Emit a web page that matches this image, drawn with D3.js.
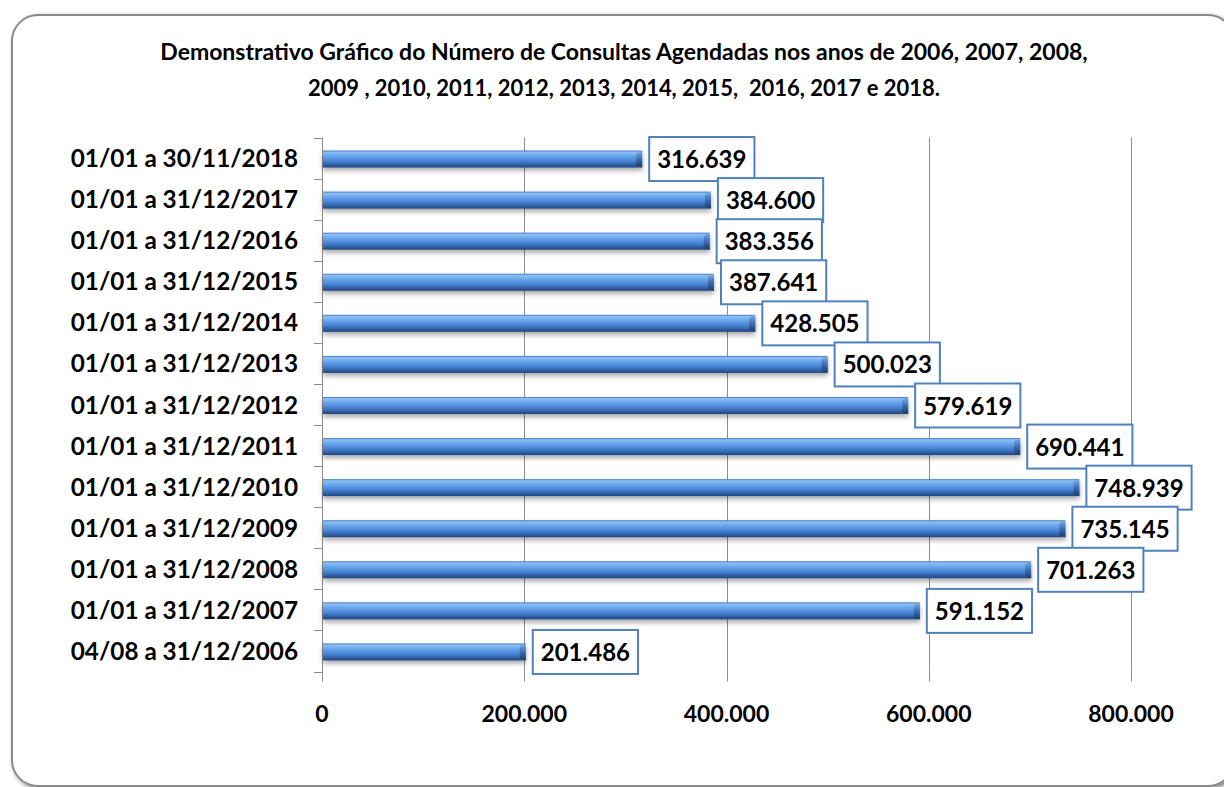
<!DOCTYPE html>
<html><head><meta charset="utf-8">
<script src="https://cdn.jsdelivr.net/npm/d3@7"></script>
<style>html,body{margin:0;padding:0;background:#fff;overflow:hidden}svg{display:block}text{font-family:Lato,"Open Sans",sans-serif;font-weight:bold;fill:#000}</style>
</head><body><svg id="c" width="1224" height="787"></svg>
<script>
const categories = ["01/01 a 30/11/2018","01/01 a 31/12/2017","01/01 a 31/12/2016","01/01 a 31/12/2015","01/01 a 31/12/2014","01/01 a 31/12/2013","01/01 a 31/12/2012","01/01 a 31/12/2011","01/01 a 31/12/2010","01/01 a 31/12/2009","01/01 a 31/12/2008","01/01 a 31/12/2007","04/08 a 31/12/2006"];
const values = [316639,384600,383356,387641,428505,500023,579619,690441,748939,735145,701263,591152,201486];
const xTicks = [0,200000,400000,600000,800000];
const titleLines = ["Demonstrativo Gráfico do Número de Consultas Agendadas nos anos de 2006, 2007, 2008,","2009 , 2010, 2011, 2012, 2013, 2014, 2015,  2016, 2017 e 2018."];

(function(){
const svg = d3.select("#c");
const loc = d3.formatLocale({decimal:",",thousands:".",grouping:[3],currency:["",""]});
const fmt = loc.format(",");

const defs = svg.append("defs");
const g1 = defs.append("linearGradient").attr("id","bar").attr("x1",0).attr("y1",0).attr("x2",0).attr("y2",1);
[[0,"#3d73bf"],[0.1,"#8fc0f4"],[0.3,"#6ca8ee"],[0.6,"#4a86d6"],[0.85,"#2f5ea3"],[1,"#21457b"]].forEach(s=>g1.append("stop").attr("offset",s[0]).attr("stop-color",s[1]));
const g2 = defs.append("linearGradient").attr("id","cap").attr("x1",0).attr("y1",0).attr("x2",0).attr("y2",1);
[[0,"#7fb0ea"],[0.5,"#3b6eb4"],[1,"#1a3a66"]].forEach(s=>g2.append("stop").attr("offset",s[0]).attr("stop-color",s[1]));
const f1 = defs.append("filter").attr("id","sh").attr("x","-5%").attr("y","-50%").attr("width","110%").attr("height","250%");
f1.append("feDropShadow").attr("dx",0).attr("dy",3).attr("stdDeviation",2.5).attr("flood-color","#000").attr("flood-opacity",0.35);
const f2 = defs.append("filter").attr("id","osh").attr("x","-5%").attr("y","-5%").attr("width","110%").attr("height","110%");
f2.append("feDropShadow").attr("dx",2).attr("dy",2).attr("stdDeviation",2).attr("flood-color","#000").attr("flood-opacity",0.5);

svg.append("rect").attr("x",12).attr("y",15).attr("width",1222).attr("height",771).attr("rx",26)
  .attr("fill","#fff").attr("stroke","#8a8a8a").attr("stroke-width",2).attr("filter","url(#osh)");

const tt = svg.append("g");
const targets = [928, 632];
titleLines.forEach((t,i)=>{
  const el = tt.append("text").attr("x",624).attr("y",[60,96][i]).attr("text-anchor","middle")
    .style("white-space","pre").attr("font-size",20).text(t);
  const w = el.node().getComputedTextLength();
  el.attr("font-size", 20*targets[i]/w);
});

const x = d3.scaleLinear().domain([0,800000]).range([322,1131]);
const y = d3.scaleBand().domain(categories).range([137.5,671.5]).padding(0);
const yTop = y.range()[0], yBot = y.range()[1];

svg.append("g").selectAll("line").data(xTicks.filter(d=>d>0)).join("line")
  .attr("x1",d=>Math.round(x(d))+0.5).attr("x2",d=>Math.round(x(d))+0.5).attr("y1",yTop).attr("y2",yBot)
  .attr("stroke","#8c8c8c").attr("stroke-width",1);
svg.append("g").selectAll("line").data(xTicks).join("line")
  .attr("x1",d=>Math.round(x(d))+0.5).attr("x2",d=>Math.round(x(d))+0.5).attr("y1",yBot).attr("y2",yBot+10)
  .attr("stroke","#8c8c8c");
svg.append("g").selectAll("text").data(xTicks).join("text")
  .attr("x",d=>x(d)).attr("y",722).attr("text-anchor","middle").attr("font-size",23).text(d=>fmt(d));
svg.append("line").attr("x1",322.5).attr("x2",322.5).attr("y1",yTop).attr("y2",yBot+10).attr("stroke","#8c8c8c");
const bounds = categories.map(c=>y(c)).concat([yBot]);
svg.append("g").selectAll("line").data(bounds).join("line")
  .attr("x1",314).attr("x2",322).attr("y1",d=>Math.round(d)+0.5).attr("y2",d=>Math.round(d)+0.5).attr("stroke","#8c8c8c");
svg.append("g").selectAll("text").data(categories).join("text")
  .attr("x",298).attr("y",c=>y(c)+y.bandwidth()/2+9).attr("text-anchor","end").attr("font-size",24.3).text(c=>c);

const bh = 17;
const bars = svg.append("g");
categories.forEach((c,i)=>{
  const cy = y(c)+y.bandwidth()/2+1;
  const x0 = x(0)+1, x1 = x(values[i]);
  const g = bars.append("g").attr("filter","url(#sh)");
  g.append("rect").attr("x",x0).attr("y",cy-bh/2).attr("width",x1-x0).attr("height",bh).attr("fill","url(#bar)");
  g.append("path").attr("d",`M${x1-6},${cy-bh/2+3} L${x1},${cy-bh/2} L${x1},${cy+bh/2} L${x1-6},${cy+bh/2-2} Z`).attr("fill","url(#cap)");
});

const lab = svg.append("g");
categories.forEach((c,i)=>{
  const cy = y(c)+y.bandwidth()/2+1;
  const bx = x(values[i])+7;
  const g = lab.append("g");
  const r = g.append("rect");
  const t = g.append("text").attr("x",bx+8).attr("y",cy+9).attr("font-size",24).text(fmt(values[i]));
  const w = t.node().getComputedTextLength();
  r.attr("x",bx).attr("y",cy-22).attr("width",w+16).attr("height",44).attr("fill","#fff").attr("stroke","#4f81bd").attr("stroke-width",2);
});
})();
</script></body></html>
